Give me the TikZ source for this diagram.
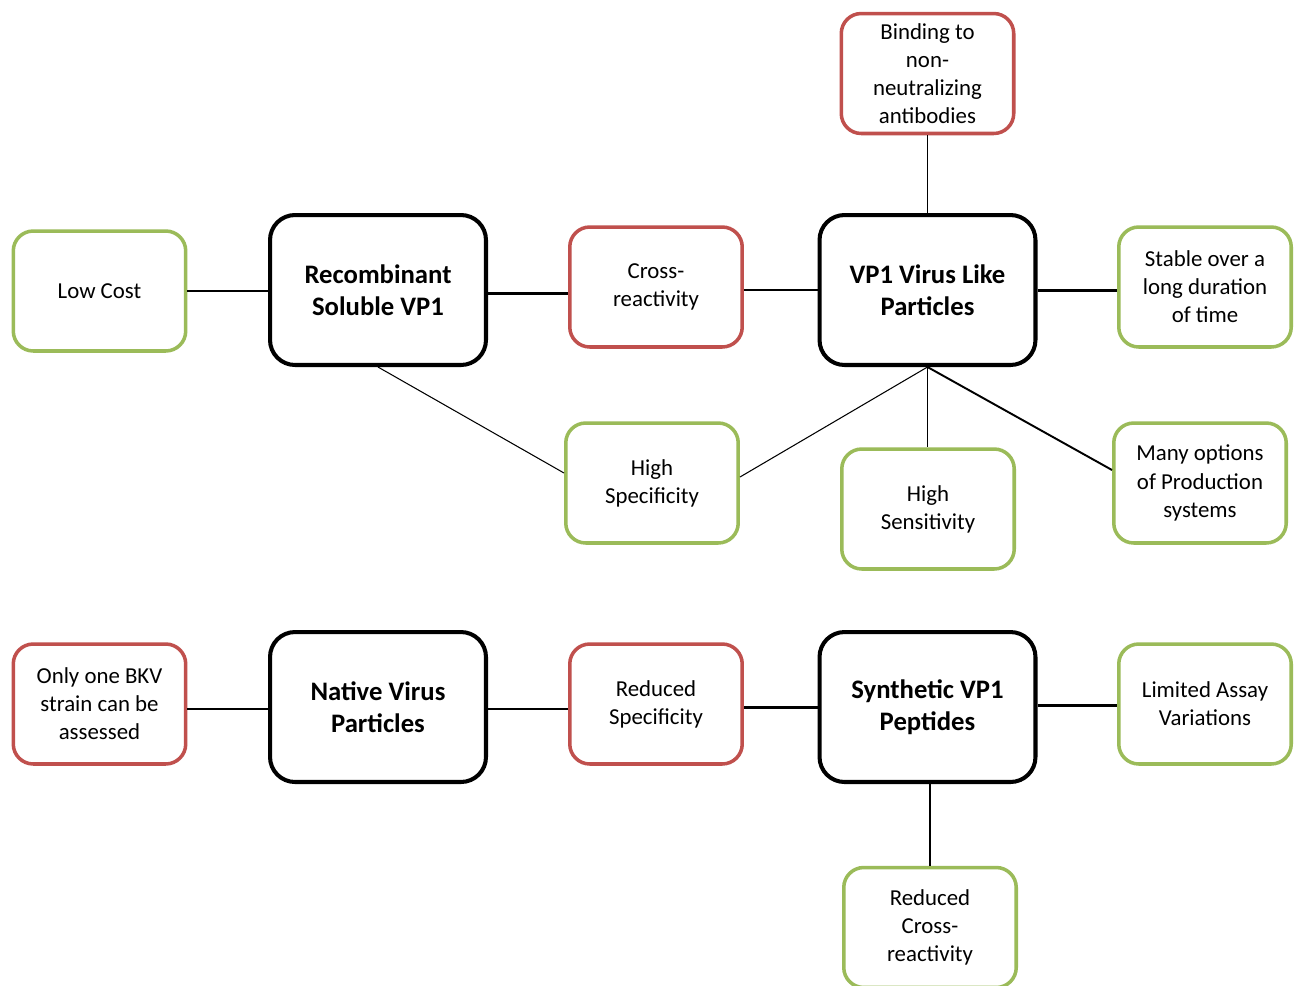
\documentclass[tikz,border=0pt]{standalone}
\usepackage{fontspec}
\setmainfont{Carlito}
\usepackage{xcolor}
\definecolor{hgreen}{HTML}{9BBB59}
\definecolor{hred}{HTML}{C0504D}

\begin{document}
\begin{tikzpicture}[x=0.02cm,y=-0.02cm,
    box/.style={rounded corners=0.4cm, align=center, fill=white,
      font=\fontsize{13pt}{16pt}\selectfont, minimum width=3.45cm, minimum height=2.4cm, line width=2pt},
    greenbox/.style={box, draw=hgreen},
    redbox/.style={box, draw=hred},
    mainbox/.style={rounded corners=0.5cm, align=center, draw=black, line width=2.3pt,
      font=\fontsize{15.2pt}{18pt}\selectfont\bfseries, minimum width=4.32cm, minimum height=3cm},
    thinline/.style={line width=0.6pt},
    medline/.style={line width=1.1pt},
    thickline/.style={line width=1.7pt}]
                  \useasboundingbox[fill=white] (0,0) rectangle (1302,985);
                  \node[mainbox] (recomb) at (378,290) {Recombinant\\Soluble VP1};
                  \node[mainbox] (vlp) at (927.5,290) {VP1 Virus Like\\Particles};
                  \node[mainbox] (native) at (378,707) {Native Virus\\Particles};
                  \node[mainbox] (synth) at (927.5,707) {Synthetic VP1\\Peptides};
                  \node[greenbox] (lowcost) at (99.5,291) {Low Cost};
                  \node[redbox] (cross) at (656,287) {Cross-\\reactivity};
                  \node[redbox] (binding) at (927.5,73.5) {Binding to\\non-\\neutralizing\\antibodies};
                  \node[greenbox] (stable) at (1205,287) {Stable over a\\long duration\\of time};
                  \node[greenbox] (highspec) at (652,483) {High\\Specificity};
                  \node[greenbox] (highsens) at (928,509) {High\\Sensitivity};
                  \node[greenbox] (options) at (1200,483) {Many options\\of Production\\systems};
                  \node[redbox] (onebkv) at (99.5,704) {Only one BKV\\strain can be\\assessed};
                  \node[redbox] (redspec) at (656,704) {Reduced\\Specificity};
                  \node[greenbox] (limited) at (1205,704) {Limited Assay\\Variations};
                  \node[greenbox] (redcross) at (930,927.5) {Reduced\\Cross-\\reactivity};
                  \draw[thinline] (lowcost.east) -- (lowcost.east -| recomb.west);
                  \draw[thickline] ([yshift=-0.06cm]recomb.east) -- ([yshift=-0.06cm]recomb.east -| cross.west);
                  \draw[thinline] (vlp.west) -- (vlp.west -| cross.east);
                  \draw[medline] (binding) -- (vlp);
                  \draw[thickline] (vlp.east) -- (vlp.east -| stable.west);
                  \draw[thinline] (recomb.south) -- ([yshift=0.2cm]highspec.west);
                  \draw[thinline] ([yshift=0.12cm]highspec.east) -- (vlp.south);
                  \draw[medline] (vlp.south) -- (vlp.south |- highsens.north);
                  \draw[medline] (vlp.south) -- ([yshift=0.26cm]options.west);
                  \draw[thinline] ([yshift=-0.04cm]native.west) -- ([yshift=-0.04cm]native.west -| onebkv.east);
                  \draw[thinline] ([yshift=-0.04cm]native.east) -- ([yshift=-0.04cm]native.east -| redspec.west);
                  \draw[thickline] (synth.west) -- (synth.west -| redspec.east);
                  \draw[thickline] ([yshift=0.04cm]synth.east) -- ([yshift=0.04cm]synth.east -| limited.west);
                  \draw[thinline] (redcross.north) -- (redcross.north |- synth.south);
                \end{tikzpicture}
\end{document}
